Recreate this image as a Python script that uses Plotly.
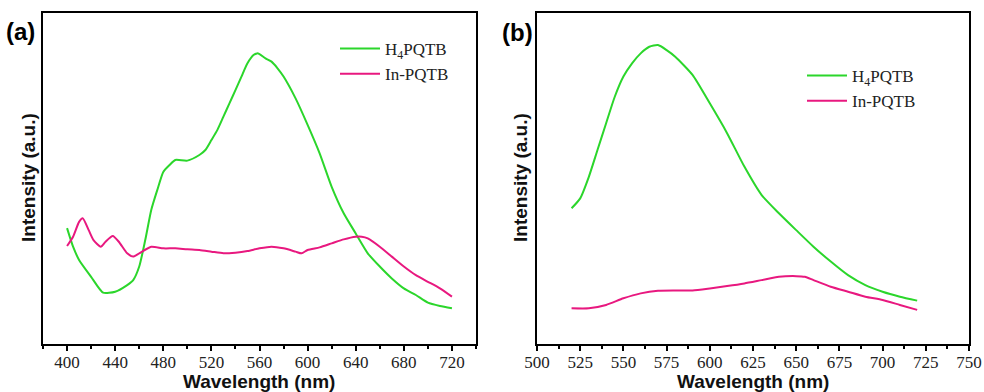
import plotly.graph_objects as go

# Panel (a)
wl_a_green = [400, 405, 410, 420, 430, 440, 450, 455, 460, 465, 470, 475, 480, 485, 490, 500, 510, 515, 520, 525,
              530, 535, 540, 545, 550, 555, 558, 560, 565, 570, 575, 580, 590, 600, 610, 620, 630, 640, 650, 660,
              670, 680, 690, 700, 710, 720]
int_a_green = [35, 29.4, 25.4, 20.3, 15.5, 15.8, 17.8, 19.3, 23.4, 31.4, 40.5, 46.5, 52, 54, 55.6, 55.4, 57.1, 58.6, 61.6, 64.7,
               68.7, 72.7, 76.7, 80.8, 84.8, 87.3, 87.8, 87.6, 86.3, 85.3, 83.3, 80.8, 74.2, 66.2, 57.6, 47.5, 39.5, 33.4, 27.4, 23.4,
               19.8, 16.8, 14.8, 12.5, 11.5, 10.8]
wl_a_pink = [400, 405, 410, 413, 418, 422, 428, 432, 438, 443, 450, 455, 460, 470, 480, 490, 500, 510, 520, 530,
             540, 550, 560, 570, 580, 590, 595, 600, 610, 620, 630, 640, 645, 650, 660, 670, 680, 690, 700, 710, 720]
int_a_pink = [29.6, 32.4, 36.9, 38, 34.4, 31.4, 29.4, 30.9, 32.6, 30.9, 27.4, 26.4, 27.4, 29.4, 28.9, 28.9, 28.6, 28.4, 27.9, 27.4,
              27.6, 28.1, 28.9, 29.4, 28.9, 27.9, 27.4, 28.4, 29.2, 30.4, 31.6, 32.4, 32.4, 31.9, 29.4, 26.4, 23.4, 20.8, 18.8, 16.8, 14.3]

# Panel (b)
wl_b_green = [520, 525, 530, 535, 540, 545, 550, 555, 560, 565, 570, 575, 580, 590, 600, 610, 620, 630, 640, 650,
              660, 670, 680, 690, 700, 710, 720]
int_b_green = [41, 44, 50.5, 58.6, 66.7, 74.7, 80.8, 84.8, 87.8, 89.8, 90.3, 88.8, 86.8, 81.3, 72.7, 63.7, 53.6, 45, 39.5, 34.4,
               29.4, 24.9, 20.8, 17.8, 15.8, 14.3, 13.1]
wl_b_pink = [520, 530, 540, 550, 560, 570, 580, 590, 600, 610, 620, 630, 640, 650, 655, 660, 670, 680, 690, 700, 710, 720]
int_b_pink = [10.8, 10.8, 11.8, 13.8, 15.3, 16.1, 16.2, 16.2, 16.8, 17.5, 18.3, 19.3, 20.3, 20.5, 20.3, 19.3, 17.3, 15.8, 14.3, 13.3, 11.8, 10.3]

series_names = ["H<sub>4</sub>PQTB", "In-PQTB"]
x_title = "Wavelength (nm)"
y_title = "Intensity (a.u.)"
panel_labels = ["(a)", "(b)"]
GREEN = "#2BD62B"
PINK = "#E8187F"

fig = go.Figure()
fig.add_trace(go.Scatter(x=wl_a_green, y=int_a_green, mode="lines", name=series_names[0],
                         line=dict(color=GREEN, width=2, shape="spline", smoothing=0.6), xaxis="x", yaxis="y", legend="legend"))
fig.add_trace(go.Scatter(x=wl_a_pink, y=int_a_pink, mode="lines", name=series_names[1],
                         line=dict(color=PINK, width=2, shape="spline", smoothing=0.6), xaxis="x", yaxis="y", legend="legend"))
fig.add_trace(go.Scatter(x=wl_b_green, y=int_b_green, mode="lines", name=series_names[0],
                         line=dict(color=GREEN, width=2, shape="spline", smoothing=0.6), xaxis="x2", yaxis="y2", legend="legend2"))
fig.add_trace(go.Scatter(x=wl_b_pink, y=int_b_pink, mode="lines", name=series_names[1],
                         line=dict(color=PINK, width=2, shape="spline", smoothing=0.6), xaxis="x2", yaxis="y2", legend="legend2"))

W, H = 984, 392
ydom = [(H - 344) / H, (H - 13) / H]
tickfont = dict(family="Liberation Serif", size=17, color="#222")
titlefont = dict(family="Liberation Sans", size=19, color="#111", weight="bold")

common_x = dict(showline=True, linecolor="black", linewidth=2, mirror=True, ticks="outside", ticklen=5,
                tickwidth=1.5, tickcolor="black", showgrid=False, zeroline=False, tickfont=tickfont,
                ticklabelstandoff=-3, automargin=False)
common_y = dict(showline=True, linecolor="black", linewidth=2, mirror=True, ticks="", showticklabels=False,
                showgrid=False, zeroline=False, range=[0, 100], automargin=False)

def ann(text, x, y, font, angle=0, xanchor="center"):
    return dict(text=text, x=x / W, y=1 - y / H, xref="paper", yref="paper", xanchor=xanchor, yanchor="middle",
                showarrow=False, font=font, textangle=angle)

fig.update_layout(
    width=W, height=H, margin=dict(l=0, r=0, t=0, b=0, pad=0, autoexpand=False),
    paper_bgcolor="white", plot_bgcolor="white",
    xaxis=dict(domain=[43 / W, 476 / W], range=[380, 740], tick0=400, dtick=40,
               minor=dict(ticks="outside", ticklen=3, dtick=20, tick0=400, tickcolor="black"),
               anchor="y", **common_x),
    yaxis=dict(domain=ydom, anchor="x", **common_y),
    xaxis2=dict(domain=[537 / W, 969 / W], range=[500, 750], tick0=500, dtick=25,
                minor=dict(ticks="outside", ticklen=3, dtick=12.5, tick0=500, tickcolor="black"),
                anchor="y2", **common_x),
    yaxis2=dict(domain=ydom, anchor="x2", **common_y),
    legend=dict(x=335 / W, y=1 - 31 / H, xanchor="left", yanchor="top", bgcolor="rgba(0,0,0,0)",
                font=dict(family="Liberation Serif", size=17, color="#222"), itemwidth=40, tracegroupgap=0),
    legend2=dict(x=802 / W, y=1 - 58 / H, xanchor="left", yanchor="top", bgcolor="rgba(0,0,0,0)",
                 font=dict(family="Liberation Serif", size=17, color="#222"), itemwidth=40, tracegroupgap=0),
    annotations=[
        ann(x_title, 259, 381, titlefont),
        ann(x_title, 753, 381, titlefont),
        ann(y_title, 28, 178, titlefont, angle=-90),
        ann(y_title, 520, 178, titlefont, angle=-90),
        ann("<b>" + panel_labels[0] + "</b>", 4, 32, dict(family="Liberation Sans", size=24, color="black"), xanchor="left"),
        ann("<b>" + panel_labels[1] + "</b>", 500, 33, dict(family="Liberation Sans", size=24, color="black"), xanchor="left"),
    ],
)

fig.write_html("out.html", config={"displayModeBar": False},
               post_script="document.body.style.margin='0';document.body.style.overflow='hidden';")
